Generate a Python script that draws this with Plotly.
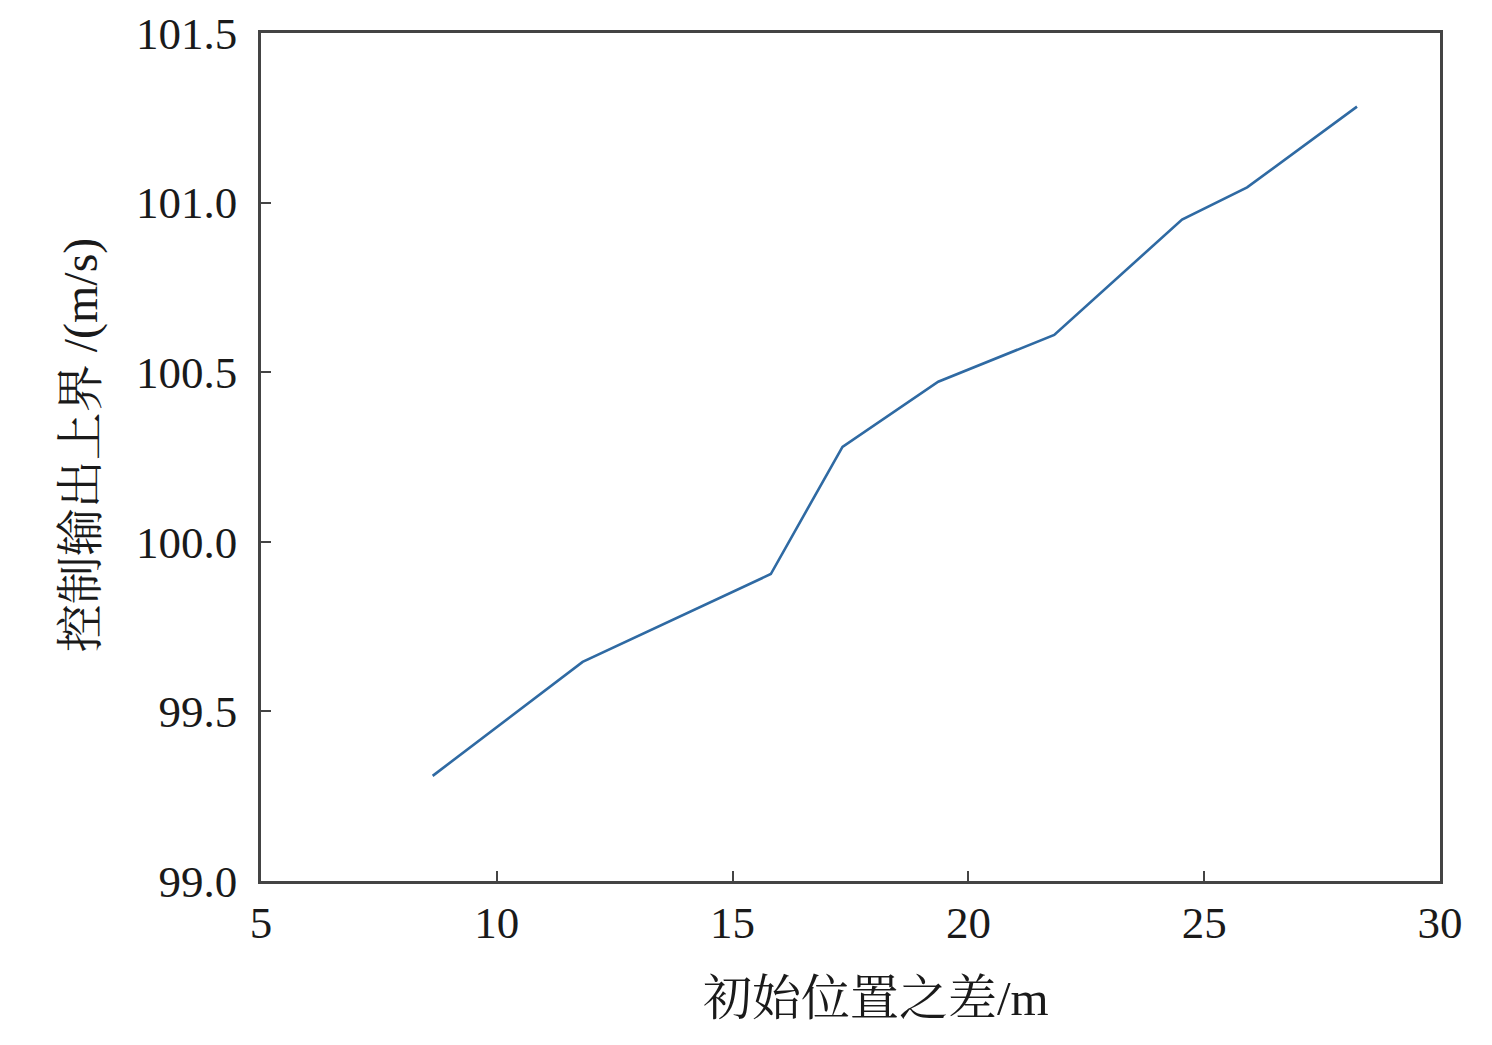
import plotly.graph_objects as go

x_vals = [8.64, 11.82, 15.81, 17.33, 19.36, 21.82, 24.53, 25.91, 28.24]
y_vals = [99.31, 99.646, 99.905, 100.28, 100.472, 100.61, 100.95, 101.045, 101.283]

x_ticks = [5, 10, 15, 20, 25, 30]
y_ticks = [99.0, 99.5, 100.0, 100.5, 101.0, 101.5]
y_ticklabels = ["99.0", "99.5", "100.0", "100.5", "101.0", "101.5"]

x_title = "初始位置之差/m"
y_title = "控制输出上界 /(m/s)"

serif = "Liberation Serif, Times New Roman, Noto Serif CJK SC, Noto Sans CJK SC, serif"

fig = go.Figure()
fig.add_trace(go.Scatter(x=x_vals, y=y_vals, mode="lines",
                         line=dict(color="#2f6aa3", width=2.6), showlegend=False))

fig.update_layout(
    width=1476, height=1029,
    margin=dict(l=253, r=44, t=25, b=156),
    paper_bgcolor="white", plot_bgcolor="white",
    font=dict(family=serif, color="#1a1a1a"),
    annotations=[
        dict(text=x_title, xref="paper", yref="paper", x=0.522, y=-0.138,
             xanchor="center", yanchor="middle", showarrow=False,
             font=dict(size=49, family=serif, color="#1a1a1a")),
        dict(text=y_title, xref="paper", yref="paper", x=-0.1525, y=0.514,
             xanchor="center", yanchor="middle", showarrow=False, textangle=-90,
             font=dict(size=48, family=serif, color="#1a1a1a")),
    ],
)
fig.update_xaxes(
    range=[5, 30], tickvals=x_ticks, ticktext=[str(v) for v in x_ticks],
    ticks="inside", ticklen=10, tickwidth=2, tickcolor="#444",
    showline=True, linecolor="#444", linewidth=2.5, mirror=True,
    showgrid=False, zeroline=False, automargin=False,
    tickfont=dict(size=45, family=serif),
)
fig.update_yaxes(
    range=[99.0, 101.5], tickvals=y_ticks, ticktext=y_ticklabels,
    ticks="inside", ticklen=10, tickwidth=2, tickcolor="#444",
    showline=True, linecolor="#444", linewidth=2.5, mirror=True,
    showgrid=False, zeroline=False, ticklabelstandoff=12, automargin=False,
    tickfont=dict(size=45, family=serif),
)

fig.write_html("out.html")
